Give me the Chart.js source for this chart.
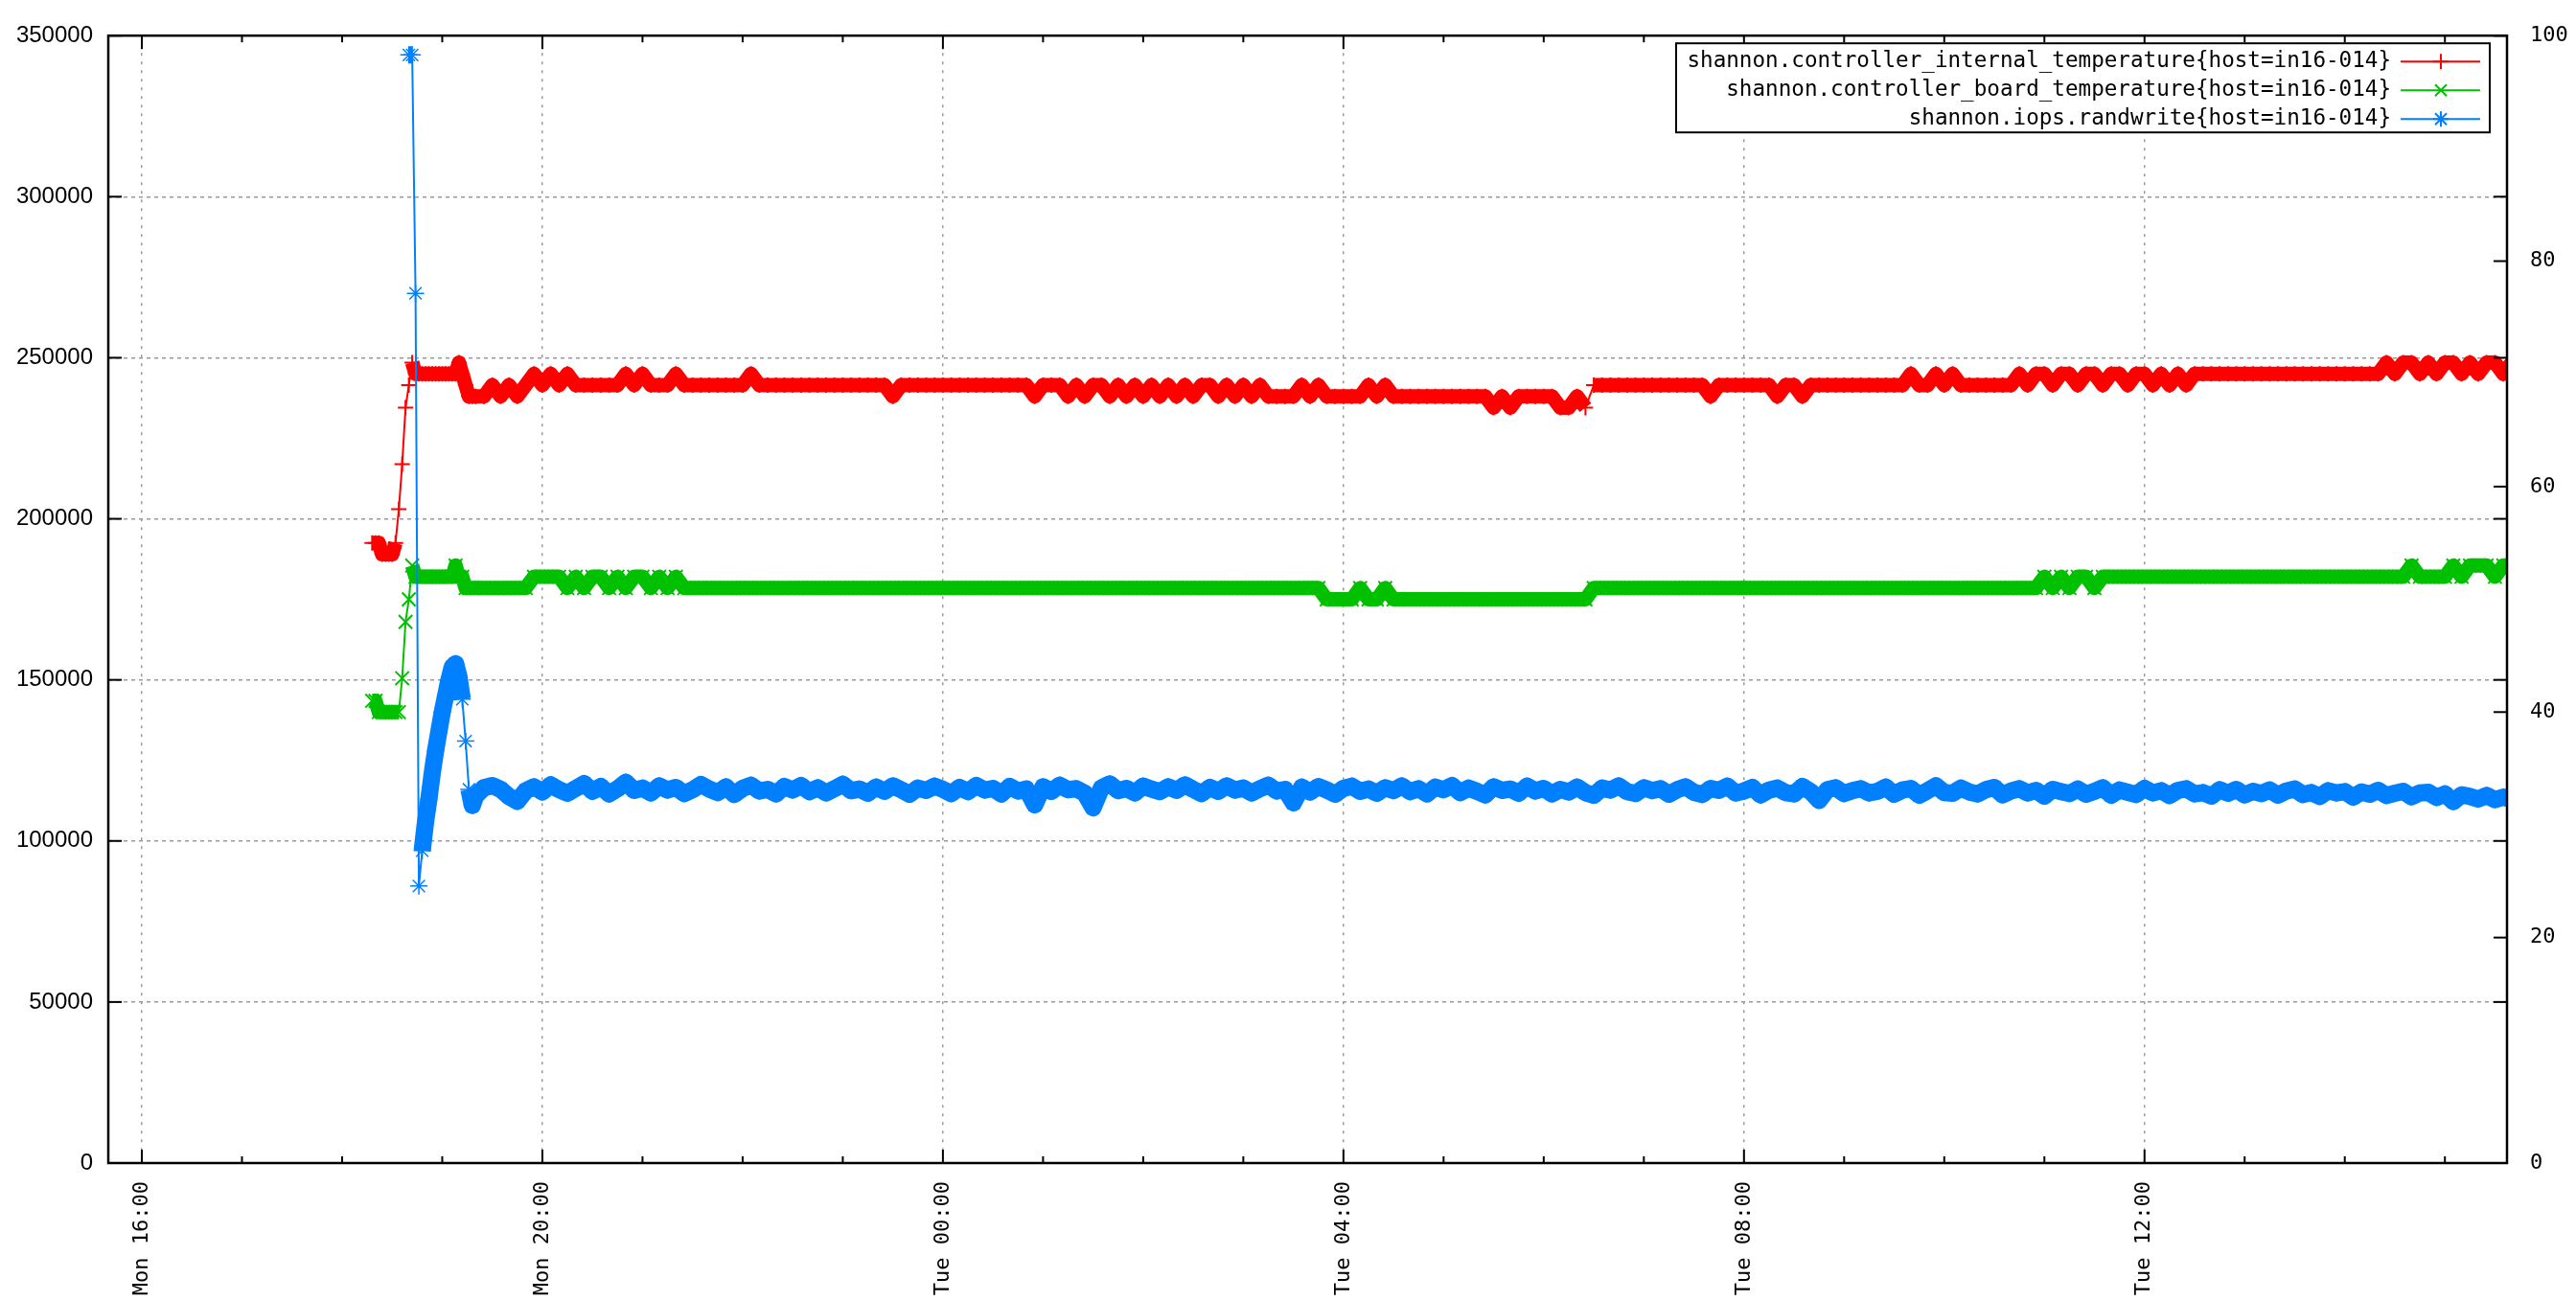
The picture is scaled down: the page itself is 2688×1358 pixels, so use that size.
<!DOCTYPE html>
<html>
<head>
<meta charset="utf-8">
<title>shannon in16-014</title>
<script src="https://cdn.jsdelivr.net/npm/chart.js@4.4.1/dist/chart.umd.min.js"></script>
<style>
    html, body { margin: 0; padding: 0; background: #fff; }
    canvas { display: block; }
</style>
</head>
<body>
<canvas id="chart" width="2688" height="1358"></canvas>
<script>
// x axis is counted in hours from Mon 00:00
const xTickHours = [16, 20, 24, 28, 32, 36];
const xTickLabels = ['Mon 16:00', 'Mon 20:00', 'Tue 00:00', 'Tue 04:00', 'Tue 08:00', 'Tue 12:00'];
const xMinHours = 15.665;
const xMaxHours = 39.62;

// left axis (iops) and right axis (temperature)
const iopsTicks = [0, 50000, 100000, 150000, 200000, 250000, 300000, 350000];
const tempTicks = [0, 20, 40, 60, 80, 100];

const seriesLabels = [
    'shannon.controller_internal_temperature{host=in16-014}',
    'shannon.controller_board_temperature{host=in16-014}',
    'shannon.iops.randwrite{host=in16-014}'
];

// start-up samples, every 2 minutes from Mon 18:18
const earlyStart = '18:18';
const earlyStepMin = 2;
const redEarly = [55, 55, 55, 54, 54, 54, 54, 55, 58, 62, 67, 69, 71,
    70, 70, 70, 70, 70, 70, 70, 70, 70, 70, 70, 70, 70, 71, 70, 69, 68, 68];
const greenEarly = [41, 41, 40, 40, 40, 40, 40, 40, 40, 43, 48, 50, 53,
    52, 52, 52, 52, 52, 52, 52, 52, 52, 52, 52, 52, 53, 52, 52, 51, 51, 51];
const blueEarly = [null, null, null, null, null, null, null, null, null, null, null,
    344000, 344000, 270000, 86000, 97000, 106000, 113000, 121000, 128000, 134000,
    140000, 145000, 150000, 154000, 155000, 151000, 144000, 131000, 116000, 111000];

// steady samples, every 5 minutes from Mon 19:20 (one row = one hour)
const mainStart = '19:20';
const mainStepMin = 5;
const redMain = [
    68, 68, 69, 68, 69, 68, 69, 70, 69, 70, 69, 70,
    69, 69, 69, 69, 69, 69, 70, 69, 70, 69, 69, 69,
    70, 69, 69, 69, 69, 69, 69, 69, 69, 70, 69, 69,
    69, 69, 69, 69, 69, 69, 69, 69, 69, 69, 69, 69,
    69, 69, 68, 69, 69, 69, 69, 69, 69, 69, 69, 69,
    69, 69, 69, 69, 69, 69, 69, 68, 69, 69, 69, 68,
    69, 68, 69, 69, 68, 69, 68, 69, 68, 69, 68, 69,
    68, 69, 68, 69, 69, 68, 69, 68, 69, 68, 69, 68,
    68, 68, 68, 69, 68, 69, 68, 68, 68, 68, 68, 69,
    68, 69, 68, 68, 68, 68, 68, 68, 68, 68, 68, 68,
    68, 68, 67, 68, 67, 68, 68, 68, 68, 68, 67, 67,
    68, 67, 69, 69, 69, 69, 69, 69, 69, 69, 69, 69,
    69, 69, 69, 69, 68, 69, 69, 69, 69, 69, 69, 69,
    68, 69, 69, 68, 69, 69, 69, 69, 69, 69, 69, 69,
    69, 69, 69, 69, 70, 69, 69, 70, 69, 70, 69, 69,
    69, 69, 69, 69, 69, 70, 69, 70, 70, 69, 70, 70,
    69, 70, 70, 69, 70, 70, 69, 70, 70, 69, 70, 69,
    70, 69, 70, 70, 70, 70, 70, 70, 70, 70, 70, 70,
    70, 70, 70, 70, 70, 70, 70, 70, 70, 70, 70, 70,
    70, 71, 70, 71, 71, 70, 71, 70, 71, 71, 70, 71,
    70, 71, 71, 70, 71
];
const greenMain = [
    51, 51, 51, 51, 51, 51, 51, 52, 52, 52, 52, 51,
    52, 51, 52, 52, 51, 52, 51, 52, 52, 51, 52, 51,
    52, 51, 51, 51, 51, 51, 51, 51, 51, 51, 51, 51,
    51, 51, 51, 51, 51, 51, 51, 51, 51, 51, 51, 51,
    51, 51, 51, 51, 51, 51, 51, 51, 51, 51, 51, 51,
    51, 51, 51, 51, 51, 51, 51, 51, 51, 51, 51, 51,
    51, 51, 51, 51, 51, 51, 51, 51, 51, 51, 51, 51,
    51, 51, 51, 51, 51, 51, 51, 51, 51, 51, 51, 51,
    51, 51, 51, 51, 51, 51, 50, 50, 50, 50, 51, 50,
    50, 51, 50, 50, 50, 50, 50, 50, 50, 50, 50, 50,
    50, 50, 50, 50, 50, 50, 50, 50, 50, 50, 50, 50,
    50, 50, 51, 51, 51, 51, 51, 51, 51, 51, 51, 51,
    51, 51, 51, 51, 51, 51, 51, 51, 51, 51, 51, 51,
    51, 51, 51, 51, 51, 51, 51, 51, 51, 51, 51, 51,
    51, 51, 51, 51, 51, 51, 51, 51, 51, 51, 51, 51,
    51, 51, 51, 51, 51, 51, 51, 51, 52, 51, 52, 51,
    52, 52, 51, 52, 52, 52, 52, 52, 52, 52, 52, 52,
    52, 52, 52, 52, 52, 52, 52, 52, 52, 52, 52, 52,
    52, 52, 52, 52, 52, 52, 52, 52, 52, 52, 52, 52,
    52, 52, 52, 52, 53, 52, 52, 52, 52, 53, 52, 53,
    53, 53, 52, 53, 53
];
const blueMain = [
    114000, 116500, 117200, 116000, 113800, 112300, 115600, 116800, 115200, 117400, 115900, 114800,
    116300, 117800, 115400, 116900, 114600, 116200, 118200, 115700, 116400, 114900, 117100, 115800,
    116600, 114700, 115900, 117500, 116100, 115000, 116800, 114400, 116300, 117300, 115500, 116000,
    114600, 116900, 115800, 117200, 115300, 116500, 114900, 116200, 117600, 115600, 116100, 114800,
    116700, 115400, 117100, 115900, 114500, 116400, 115700, 117000, 116000, 114700, 116600, 115300,
    117200, 115800, 116300, 114600, 116900, 115500, 116100, 111200, 116800, 115400, 117300, 115900,
    116200, 114800, 110300, 116500, 117700, 115600, 116300, 114900, 117000, 116100, 115300, 116800,
    115700, 117400, 116000, 114700, 116600, 115400, 117100, 115800, 116400, 114900, 116200, 117300,
    115500, 116000, 111800, 116700, 115200, 116900, 115800, 114500, 116300, 117000, 115400, 116100,
    114800, 116500, 115600, 117100, 115300, 116200, 114600, 116700, 115900, 117200, 115000, 116400,
    115400, 114300, 116800, 115700, 116100, 114800, 117000, 115500, 116300, 114600, 116000, 115200,
    116700, 115000, 114200, 116400, 115800, 117100, 115300, 114700, 116500, 115600, 116200, 114500,
    115900, 116800, 115100, 114400, 116300, 115700, 117000, 114900, 115500, 116600, 114300, 115800,
    116400, 115000, 114600, 116900, 115300, 112600, 115900, 116500, 114700, 115600, 116200, 114900,
    115400, 116700, 114500, 115800, 116300, 114200, 115600, 117100, 115000, 114800, 116400, 115200,
    114600, 115900, 116600, 114300, 115500, 116200, 114900, 115700, 113900, 116000, 115300, 114700,
    116100, 114500, 115400, 116500, 114200, 115800, 115100, 114400, 116300, 114900, 115600, 114100,
    115700, 116200, 114600, 115000, 113900, 115900, 114800, 116000, 114300, 115400, 114700, 115800,
    114200, 115500, 116100, 114400, 115000, 113800, 115600, 114900, 115300, 113600, 115200, 114500,
    115700, 114100, 114800, 115400, 113700, 114900, 115100, 113500, 114600, 112200, 114300, 113800,
    113000, 114100, 112800, 113600, 112900
];

const RED = '#ff0000';
const GREEN = '#00c000';
const BLUE = '#0080ff';
const LINE_WIDTH = 2;

function hoursOf(hhmm) {
    const [h, m] = hhmm.split(':').map(Number);
    return h + m / 60;
}

function toPoints(early, main) {
    const pts = [];
    early.forEach((v, i) => pts.push({ x: hoursOf(earlyStart) + i * earlyStepMin / 60, y: v }));
    main.forEach((v, i) => pts.push({ x: hoursOf(mainStart) + i * mainStepMin / 60, y: v }));
    return pts;
}

// dense gnuplot markers merge into a solid band: thick where the series sits flat, thin on jumps
function bandWhenFlat(maxStep, band) {
    return ctx => Math.abs(ctx.p1.parsed.y - ctx.p0.parsed.y) <= maxStep ? band : LINE_WIDTH;
}

function drawMarker(ctx, style, x, y, r) {
    ctx.beginPath();
    if (style === 'cross' || style === 'star') {
        ctx.moveTo(x - r, y); ctx.lineTo(x + r, y);
        ctx.moveTo(x, y - r); ctx.lineTo(x, y + r);
    }
    if (style === 'crossRot' || style === 'star') {
        const d = r * 0.75;
        ctx.moveTo(x - d, y - d); ctx.lineTo(x + d, y + d);
        ctx.moveTo(x - d, y + d); ctx.lineTo(x + d, y - d);
    }
    ctx.stroke();
}

// gnuplot style frame with inward ticks on all four sides
const frameTicks = {
    id: 'frameTicks',
    afterDatasetsDraw(chart) {
        const { ctx, chartArea: a, scales } = chart;
        const seg = (x1, y1, x2, y2) => { ctx.beginPath(); ctx.moveTo(x1, y1); ctx.lineTo(x2, y2); ctx.stroke(); };
        ctx.save();
        ctx.strokeStyle = '#000';
        ctx.lineWidth = 2;
        for (let h = Math.ceil(xMinHours); h <= xMaxHours; h++) {
            const x = scales.x.getPixelForValue(h);
            const len = xTickHours.includes(h) ? 14 : 7;
            seg(x, a.bottom, x, a.bottom - len);
            seg(x, a.top, x, a.top + len);
        }
        iopsTicks.forEach(v => {
            const y = scales.y.getPixelForValue(v);
            seg(a.left, y, a.left + 14, y);
            seg(a.right, y, a.right - 14, y);
        });
        tempTicks.forEach(v => {
            const y = scales.y2.getPixelForValue(v);
            seg(a.right, y, a.right - 14, y);
        });
        ctx.lineWidth = 2.5;
        ctx.strokeRect(a.left, a.top, a.right - a.left, a.bottom - a.top);
        ctx.restore();
    }
};

// key box in the top right corner, text first and sample on the right
const gnuplotKey = {
    id: 'gnuplotKey',
    afterDraw(chart) {
        const { ctx, chartArea: a } = chart;
        const datasets = chart.data.datasets;
        const right = a.right - 18;
        const left = right - 849;
        const top = a.top + 8;
        const rowH = 30;
        ctx.save();
        ctx.fillStyle = '#fff';
        ctx.fillRect(left, top, right - left, datasets.length * rowH + 3);
        ctx.strokeStyle = '#000';
        ctx.lineWidth = 2;
        ctx.strokeRect(left, top, right - left, datasets.length * rowH + 3);
        ctx.font = '22.6px "DejaVu Sans Mono"';
        ctx.textAlign = 'right';
        ctx.textBaseline = 'middle';
        datasets.forEach((ds, i) => {
            const y = top + 19 + i * rowH;
            ctx.fillStyle = '#000';
            ctx.fillText(ds.label, right - 103, y);
            ctx.strokeStyle = ds.borderColor;
            ctx.lineWidth = 2;
            ctx.beginPath();
            ctx.moveTo(right - 93, y);
            ctx.lineTo(right - 10, y);
            ctx.stroke();
            drawMarker(ctx, ds.pointStyle, right - 51, y, 8);
        });
        ctx.restore();
    }
};

Chart.defaults.color = '#000';

new Chart(document.getElementById('chart'), {
    type: 'line',
    data: {
        datasets: [{
            label: seriesLabels[0],
            data: toPoints(redEarly, redMain),
            yAxisID: 'y2',
            borderColor: RED,
            pointBorderColor: RED,
            pointStyle: 'cross',
            pointRadius: 8,
            pointBorderWidth: 2,
            borderWidth: LINE_WIDTH,
            borderJoinStyle: 'round',
            segment: { borderWidth: bandWhenFlat(1, 15) },
            order: 3
        }, {
            label: seriesLabels[1],
            data: toPoints(greenEarly, greenMain),
            yAxisID: 'y2',
            borderColor: GREEN,
            pointBorderColor: GREEN,
            pointStyle: 'crossRot',
            pointRadius: 10,
            pointBorderWidth: 2,
            borderWidth: LINE_WIDTH,
            borderJoinStyle: 'round',
            segment: { borderWidth: bandWhenFlat(1, 15) },
            order: 2
        }, {
            label: seriesLabels[2],
            data: toPoints(blueEarly, blueMain),
            yAxisID: 'y',
            borderColor: BLUE,
            pointBorderColor: BLUE,
            pointStyle: 'star',
            pointRadius: 9,
            pointBorderWidth: 1.5,
            borderWidth: LINE_WIDTH,
            borderJoinStyle: 'round',
            segment: { borderWidth: bandWhenFlat(10000, 18) },
            order: 1
        }]
    },
    options: {
        responsive: false,
        animation: false,
        events: [],
        layout: { padding: { top: 21, left: 0, right: 0, bottom: 0 } },
        plugins: {
            legend: { display: false },
            tooltip: { enabled: false }
        },
        scales: {
            x: {
                type: 'linear',
                min: xMinHours,
                max: xMaxHours,
                afterBuildTicks: scale => { scale.ticks = xTickHours.map(v => ({ value: v })); },
                afterFit: scale => { scale.height = 144; },
                ticks: {
                    autoSkip: false,
                    minRotation: 90,
                    maxRotation: 90,
                    padding: 19,
                    font: { family: 'DejaVu Sans Mono', size: 22 },
                    callback: v => xTickLabels[xTickHours.indexOf(v)]
                },
                grid: { color: '#9a9a9a', lineWidth: 1.5, drawTicks: false },
                border: { display: false, dash: [3, 6] }
            },
            y: {
                position: 'left',
                min: iopsTicks[0],
                max: iopsTicks[iopsTicks.length - 1],
                afterFit: scale => { scale.width = 113; },
                ticks: {
                    stepSize: iopsTicks[1] - iopsTicks[0],
                    padding: 16,
                    font: { family: 'Liberation Sans', size: 24 },
                    callback: v => String(v)
                },
                grid: { color: '#9a9a9a', lineWidth: 1.5, drawTicks: false },
                border: { display: false, dash: [4, 4] }
            },
            y2: {
                position: 'right',
                min: tempTicks[0],
                max: tempTicks[tempTicks.length - 1],
                afterFit: scale => { scale.width = 72; },
                ticks: {
                    stepSize: tempTicks[1] - tempTicks[0],
                    padding: 24,
                    font: { family: 'DejaVu Sans Mono', size: 22 },
                    callback: v => String(v)
                },
                grid: { drawOnChartArea: false, drawTicks: false },
                border: { display: false }
            }
        }
    },
    plugins: [frameTicks, gnuplotKey]
});
</script>
</body>
</html>
